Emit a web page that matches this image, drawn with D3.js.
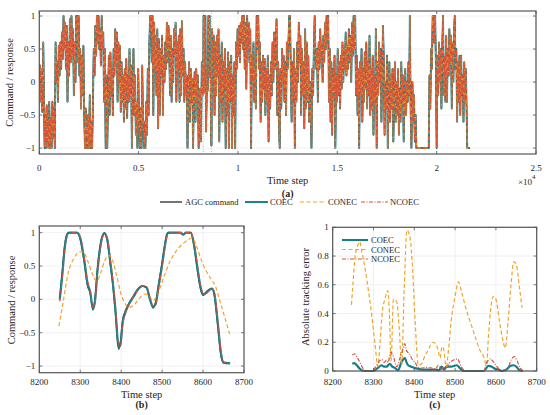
<!DOCTYPE html>
<html><head><meta charset="utf-8">
<script src="https://cdn.jsdelivr.net/npm/d3@7"></script>
<style>body{margin:0;background:#fff}svg text{font-family:'Liberation Serif','DejaVu Serif',serif;fill:#262626}</style>
</head><body>
<script>
// ---------------- DATA ----------------
const seriesNames = ["AGC command","COEC","CONEC","NCOEC"];
const aTicks = [0,5000,10000,15000,20000,25000];
const aTickLabels = ["0","0.5","1","1.5","2","2.5"];
const cmdTicks = [-1,-0.5,0,0.5,1];
const cmdTickLabels = ["\u22121","\u22120.5","0","0.5","1"];
const zoomTicks = [8200,8300,8400,8500,8600,8700];
const zoomTickLabels = ["8200","8300","8400","8500","8600","8700"];
const errTicks = [0,0.2,0.4,0.6,0.8,1];
const errTickLabels = ["0","0.2","0.4","0.6","0.8","1"];
const zoomWindow = [8250,8665];

// (a) full AGC command, [time step, value] (responses overlap it at this scale)
const agcFull = [
[0,0.0],[40,0.25],[80,-0.3],[110,0.2],[150,-0.45],[180,0.15],[200,0.6],[230,-0.2],[270,-1],[300,-0.5],[330,-1],[370,-0.35],[400,-0.9],[430,-0.6],[460,-1],[500,-0.3],[540,-1],[580,-0.55],[620,-1],[660,-0.3],[700,-0.85],[740,-0.4],[780,-1],
[820,0.6],[860,0.0],[900,0.3],[940,-0.3],[980,0.55],[1020,0.1],[1060,0.6],[1100,0.2],[1140,0.75],[1180,0.35],[1220,1],[1260,0.5],[1300,0.9],[1340,0.2],[1380,0.85],[1420,-0.3],[1460,0.6],[1500,0.1],[1540,0.95],[1580,0.3],[1620,1],[1660,0.4],[1700,0.8],[1740,-0.2],[1780,0.6],[1820,0.0],[1860,1],[1900,1],[1940,0.3],[1980,1],[2020,0.1],[2060,0.5],[2100,-0.4],[2140,0.4],[2180,-0.2],[2220,0.55],[2260,-0.5],
[2300,-1],[2340,-0.4],[2380,-1],[2420,-1],[2460,-0.5],[2500,-1],[2540,-0.2],[2580,-1],[2620,-0.6],[2660,-1],[2700,-0.3],
[2740,0.5],[2780,0.1],[2820,0.85],[2860,0.4],[2900,1],[2940,0.6],[2980,1],[3020,0.5],[3060,0.8],[3100,0.25],[3140,1],[3180,0.5],[3220,0.75],[3260,-0.3],[3300,0.5],[3340,-1],[3380,0.1],[3420,-1],[3460,-0.3],[3500,0.4],
[3540,-0.5],[3580,0.45],[3620,-0.2],[3660,0.2],[3700,-0.5],[3740,0.5],[3780,0.1],[3820,0.8],[3860,0.3],[3900,0.75],[3940,-0.3],[3980,0.6],[4020,0.0],[4060,0.55],[4100,-0.45],[4140,0.3],[4180,-0.3],[4220,0.1],[4260,-0.6],[4300,0.2],[4340,-0.4],[4380,0.35],[4420,-0.55],[4460,0.1],[4500,-0.3],[4540,0.5],[4580,-0.2],[4620,0.25],[4660,-1],[4700,-0.1],[4740,0.5],[4780,-0.5],[4820,0.1],[4860,-0.8],[4900,-0.3],[4940,-1],[4980,0.2],[5020,-0.6],[5060,-1],[5100,-0.4],[5140,-1],[5180,0.25],[5220,-0.6],[5260,-1],
[5300,-0.6],[5340,-1],[5380,-0.3],[5420,-0.8],[5460,0.2],[5500,-0.5],[5540,0.6],[5580,1],[5620,1],[5660,0.3],[5700,1],[5740,-0.5],[5780,0.9],[5820,0.2],[5860,0.7],[5900,-0.2],[5940,0.8],[5980,-0.7],[6020,0.65],[6060,-0.5],[6100,0.5],[6140,0.1],[6180,0.7],[6220,-0.5],[6260,0.4],[6300,0.0],[6340,0.6],[6380,0.2],[6420,0.9],[6460,0.3],[6500,0.85],[6540,0.5],[6580,-0.2],[6620,0.7],[6660,-0.3],[6700,0.5],[6740,0.0],[6780,0.8],[6820,0.4],[6860,0.9],[6900,-0.3],[6940,0.6],[6980,0.2],[7020,0.7],[7060,-0.3],[7100,0.8],[7140,-0.2],[7180,0.92],[7220,0.1],[7260,0.5],[7300,-0.3],[7340,0.3],[7380,-0.2],[7420,0.1],[7460,-1],[7500,-0.1],[7540,0.3],[7580,-0.6],[7620,0.2],[7660,-0.3],[7700,0.05],[7740,-1],[7780,-0.2],[7820,0.15],[7860,-0.6],[7900,0.2],[7940,-0.3],[7980,0.1],[8020,-1],[8060,-0.4],[8100,-0.1],[8140,-0.9],[8180,0.3],[8220,-0.2],
[8250,0.02],[8267,1],[8293,1],[8331,-0.16],[8359,1],[8394,-0.75],[8451,0.2],[8478,-0.13],[8512,1],[8569,1],[8598,0.07],[8622,0.16],[8647,-0.95],[8667,-0.96],
[8700,0.8],[8740,0.3],[8780,0.7],[8820,-0.5],[8860,0.6],[8900,-0.2],[8940,0.7],[8980,0.1],[9020,0.8],[9060,-0.9],[9100,0.4],[9140,-0.3],[9180,0.6],[9220,-0.6],[9260,0.3],[9300,-0.1],[9340,0.5],[9380,-1],[9420,0.2],[9460,-0.5],[9500,0.45],[9540,-1],[9580,0.3],[9620,-0.3],[9660,0.4],[9700,-1],[9740,0.1],[9780,-0.5],[9820,0.3],[9860,-1],[9900,0.6],[9940,0.2],[9980,0.8],[10020,0.4],[10060,0.85],[10100,0.3],[10140,0.9],[10180,0.6],[10220,1],[10260,0.5],[10300,1],[10340,0.2],[10380,0.9],[10420,-0.1],[10460,1],[10500,0.5],[10540,0.9],[10580,0.3],[10620,0.8],[10660,-1],[10700,0.4],[10740,0.0],[10780,0.6],[10820,-0.3],[10860,0.2],[10900,-0.4],[10940,1],[10980,0.5],[11020,1],[11060,0.2],[11100,0.6],[11140,-0.6],[11180,0.3],[11220,-0.3],[11260,0.4],[11300,-0.1],[11340,0.35],[11380,-0.5],[11420,0.2],[11460,-0.3],[11500,0.4],[11540,-0.9],[11580,0.1],[11620,-0.4],[11660,0.3],[11700,-0.2],[11740,0.6],[11780,0.0],[11820,0.75],[11860,0.2],
[11900,0.3],[11940,0.95],[11980,-0.5],[12020,0.3],[12060,-0.6],[12100,-1],[12140,0.2],[12180,-0.4],[12220,0.5],[12260,0.0],[12300,0.4],[12340,-0.3],[12380,0.3],[12420,-0.5],[12460,0.6],[12500,0.2],[12540,0.6],[12580,1],[12620,1],[12660,0.1],[12700,-0.6],[12740,0.3],[12780,-0.3],[12820,0.5],[12860,-1],[12900,0.2],[12940,-0.3],[12980,0.6],[13020,0.0],[13060,0.9],[13100,0.3],[13140,0.7],[13180,-0.5],[13220,0.5],[13260,-0.2],[13300,0.3],[13340,-0.7],[13380,0.8],[13420,-0.4],[13460,0.6],[13500,-0.3],[13540,0.4],[13580,-0.6],[13620,0.0],[13660,-0.4],[13700,-1],[13740,0.2],[13780,-0.2],[13820,0.5],[13860,1],[13900,0.4],[13940,0.2],[13980,0.5],[14020,-0.3],[14060,0.6],[14100,0.2],[14140,0.8],[14180,0.3],[14220,0.6],[14260,0.0],[14300,0.7],[14340,0.3],[14380,0.9],[14420,0.5],[14460,1],[14500,0.6],[14540,1],[14580,-0.3],[14620,0.5],[14660,-0.6],[14700,0.3],[14740,-0.8],[14780,0.2],[14820,-0.2],[14860,0.4],[14900,-1],[14940,0.1],[14980,-0.3],[15020,0.5],[15060,-0.2],[15100,0.3],[15140,-0.4],[15180,0.4],[15220,-0.1],[15260,0.6],[15300,0.0],[15340,0.5],[15380,0.2],[15420,0.75],[15460,0.1],[15500,0.55],[15540,0.2],[15580,0.8],[15620,0.3],[15660,0.7],[15700,0.0],[15740,0.9],[15780,0.4],[15820,1],[15860,0.5],[15900,1],[15940,-0.2],
[15980,0.4],[16020,-0.5],[16060,0.2],[16100,-1],[16140,0.3],[16180,-0.2],[16220,0.5],[16260,-0.6],[16300,0.2],[16340,-0.3],[16380,0.45],[16420,-0.1],[16460,0.6],[16500,-0.4],[16540,0.3],[16580,-0.2],[16620,0.7],[16660,-0.5],[16700,0.2],[16740,-0.4],[16780,0.4],[16820,-0.8],[16860,0.1],[16900,-0.3],[16940,0.8],[16980,-1],[17020,0.3],[17060,-0.2],[17100,0.6],[17140,0.0],[17180,0.5],[17220,-0.6],[17260,0.2],[17300,0.85],[17340,0.3],[17380,-0.8],[17420,0.0],[17460,-0.4],[17500,0.4],[17540,-1],[17580,-0.2],[17620,0.3],[17660,-0.6],[17700,0.1],[17740,-0.4],[17780,0.2],[17820,-0.9],[17860,-0.2],[17900,0.3],[17940,-0.6],[17980,0.0],[18020,-0.5],[18060,0.2],[18100,-0.8],[18140,-0.1],[18180,-0.6],[18220,0.3],[18260,-0.3],[18300,0.1],[18340,-0.9],[18380,-0.3],[18420,0.2],[18460,-0.5],[18500,0.0],[18540,-0.3],[18580,0.3],[18620,-0.2],[18650,1],[18690,-0.4],[18730,-1],[18780,0.0],[18820,-0.6],[18860,-0.2],[18900,-0.9],[18940,-0.5],
[18980,-1],[19100,-1],[19600,-1],[19640,0.1],[19680,-0.4],[19720,0.5],[19760,0.2],[19800,1],[19840,1],[19880,0.6],[19920,1],[19960,0.3],[20000,-1],[20040,0.4],[20080,-0.2],[20120,0.6],[20160,0.0],[20200,0.5],[20240,-0.4],[20280,0.5],[20320,1],[20360,-0.2],[20400,0.4],[20440,-0.3],[20480,0.7],[20520,-0.3],[20560,0.5],[20600,0.1],[20640,0.8],[20680,0.3],[20720,0.7],[20760,-0.4],[20800,0.6],[20840,0.0],[20880,0.8],[20910,1],[20950,0.2],[20990,0.5],[21030,-0.6],[21070,0.3],[21110,-0.3],[21150,0.4],[21190,-0.5],[21230,0.4],[21270,-0.2],[21310,0.1],[21350,-0.6],[21390,0.3],[21430,-0.3],[21470,0.2],[21540,-1],[21600,-1],[21680,-1]
];

// (b) zoomed window
const bSteps = [8250,8256,8262,8268,8272,8292,8300,8310,8318,8324,8331,8336,8342,8350,8359,8366,8374,8380,8386,8394,8398,8404,8410,8420,8430,8440,8452,8462,8470,8478,8484,8492,8500,8506,8512,8515,8545,8552,8558,8570,8578,8586,8594,8600,8606,8615,8622,8628,8636,8644,8650,8666];
const agcB = [0.02,0.4,0.8,0.98,1,1,0.9,0.55,0.2,0.1,-0.16,0,0.45,0.85,1,0.88,0.5,0.2,-0.2,-0.75,-0.65,-0.3,-0.18,-0.05,0.05,0.15,0.2,0.17,0,-0.13,-0.05,0.25,0.55,0.8,0.98,1,1,0.97,1,1,0.8,0.45,0.15,0.06,0.1,0.15,0.16,0.05,-0.4,-0.85,-0.95,-0.96];
const coecB = [0.0,0.36,0.77,0.97,1,1,0.92,0.58,0.23,0.12,-0.14,-0.03,0.42,0.83,0.99,0.9,0.53,0.23,-0.16,-0.72,-0.68,-0.33,-0.2,-0.06,0.04,0.14,0.2,0.18,0.01,-0.11,-0.07,0.22,0.52,0.77,0.97,1,1,0.97,1,1,0.82,0.48,0.18,0.07,0.09,0.14,0.16,0.07,-0.36,-0.82,-0.95,-0.96];
const ncoecB = [-0.03,0.32,0.72,0.95,0.99,1,0.94,0.62,0.27,0.15,-0.12,-0.05,0.38,0.8,0.98,0.92,0.57,0.27,-0.12,-0.68,-0.7,-0.36,-0.22,-0.07,0.03,0.13,0.2,0.19,0.03,-0.1,-0.08,0.19,0.49,0.74,0.95,0.99,1,0.97,1,1,0.84,0.52,0.21,0.09,0.08,0.13,0.16,0.09,-0.32,-0.78,-0.94,-0.96];
const conecB = [[8248,-0.4],[8258,-0.05],[8270,0.38],[8285,0.62],[8300,0.71],[8308,0.71],[8318,0.58],[8330,0.38],[8340,0.27],[8350,0.4],[8360,0.58],[8370,0.66],[8378,0.6],[8388,0.38],[8398,0.12],[8408,-0.05],[8420,-0.12],[8432,-0.08],[8445,0.02],[8458,0.08],[8468,0.05],[8478,-0.02],[8490,0.1],[8505,0.35],[8520,0.58],[8535,0.73],[8550,0.83],[8565,0.9],[8573,0.92],[8585,0.78],[8595,0.6],[8608,0.42],[8620,0.3],[8630,0.2],[8640,0.0],[8652,-0.25],[8665,-0.52]];

// (c) absolute tracking error
const coecC = [[8248,0.05],[8253,0.055],[8259,0.04],[8265,0.02],[8271,0.005],[8280,0],[8300,0],[8310,0.02],[8320,0.04],[8326,0.03],[8332,0.03],[8340,0.05],[8346,0.03],[8353,0.02],[8360,0.005],[8369,0.065],[8377,0.09],[8381,0.06],[8385,0.04],[8393,0.03],[8402,0.02],[8410,0.015],[8418,0.01],[8430,0.01],[8440,0.008],[8451,0.01],[8460,0.005],[8467,0.03],[8473,0.01],[8479,0.03],[8490,0.03],[8504,0.04],[8512,0.02],[8520,0],[8570,0],[8582,0.035],[8590,0.03],[8598,0.015],[8606,0.01],[8614,0],[8626,0.01],[8635,0.035],[8643,0.04],[8650,0.03],[8658,0.005],[8665,0]];
const ncoecC = [[8248,0.11],[8253,0.12],[8259,0.1],[8265,0.07],[8272,0.03],[8279,0.0],[8295,0],[8308,0.04],[8315,0.07],[8320,0.08],[8326,0.06],[8332,0.075],[8336,0.06],[8342,0.13],[8349,0.1],[8357,0.03],[8365,0.09],[8373,0.16],[8377,0.19],[8381,0.14],[8388,0.12],[8395,0.08],[8402,0.06],[8408,0.03],[8418,0.02],[8430,0.025],[8443,0.02],[8452,0.015],[8459,0.04],[8466,0.01],[8471,0.03],[8478,0.02],[8485,0.05],[8492,0.07],[8500,0.08],[8506,0.085],[8512,0.05],[8520,0.01],[8528,0],[8570,0],[8578,0.06],[8586,0.085],[8592,0.07],[8600,0.04],[8610,0.01],[8620,0.005],[8631,0.03],[8638,0.08],[8645,0.1],[8652,0.07],[8660,0.02],[8667,0]];
const conecC = [[8246,0.46],[8250,0.62],[8255,0.8],[8260,0.86],[8266,0.9],[8272,0.82],[8279,0.72],[8288,0.55],[8296,0.38],[8304,0.18],[8311,0.03],[8316,0.2],[8322,0.42],[8328,0.5],[8335,0.56],[8339,0.4],[8343,0.07],[8349,0.5],[8357,0.48],[8363,0.3],[8369,0.04],[8375,0.55],[8382,0.98],[8390,0.92],[8396,0.7],[8402,0.35],[8410,0.04],[8418,0.05],[8425,0.1],[8435,0.15],[8444,0.2],[8452,0.19],[8458,0.15],[8463,0.09],[8468,0.17],[8472,0.15],[8478,0.03],[8484,0.15],[8490,0.34],[8500,0.52],[8508,0.62],[8516,0.55],[8525,0.45],[8535,0.36],[8548,0.25],[8560,0.15],[8570,0.1],[8577,0.04],[8582,0.25],[8588,0.45],[8594,0.52],[8600,0.5],[8608,0.36],[8616,0.23],[8623,0.16],[8630,0.35],[8637,0.6],[8644,0.76],[8650,0.74],[8657,0.6],[8664,0.44]];

// ---------------- STYLE ----------------
const FONT = "'Liberation Serif','DejaVu Serif',serif";
const colors = {"AGC command":"#3a3a3a","COEC":"#117f8b","CONEC":"#eda52e","NCOEC":"#d8523a"};
const styles = {
  "AGC command":{w:1.4,dash:null},
  "COEC":{w:1.9,dash:null},
  "CONEC":{w:1.2,dash:"4,2.5"},
  "NCOEC":{w:1.2,dash:"4,1.5,1,1.5"}
};
const frameColor = "#555";
const gridColor = "#ebebeb";

const svg = d3.select("body").append("svg").attr("width",550).attr("height",415)
  .attr("font-family",FONT).style("font-family",FONT);
const defs = svg.append("defs");
let clipId = 0;

function txt(sel){ return sel.append("text").attr("font-family",FONT).style("font-family",FONT); }

function panel(x, y, xt, xl, yt, yl, opts) {
  const g = svg.append("g");
  const [x0,x1] = x.range(), [yb,yt0] = y.range();
  g.selectAll(null).data(xt).enter().append("line")
    .attr("x1",d=>x(d)).attr("x2",d=>x(d)).attr("y1",yt0).attr("y2",yb)
    .attr("stroke",gridColor).attr("stroke-width",0.7);
  g.selectAll(null).data(yt).enter().append("line")
    .attr("y1",d=>y(d)).attr("y2",d=>y(d)).attr("x1",x0).attr("x2",x1)
    .attr("stroke",gridColor).attr("stroke-width",0.7);
  const id = "clip"+(clipId++);
  defs.append("clipPath").attr("id",id).append("rect")
    .attr("x",x0).attr("y",yt0-2).attr("width",x1-x0).attr("height",yb-yt0+4);
  const plot = g.append("g").attr("clip-path",`url(#${id})`);
  const axes = g.append("g");
  const tl = 3;
  xt.forEach(t=>{
    axes.append("line").attr("x1",x(t)).attr("x2",x(t)).attr("y1",yb).attr("y2",yb-tl).attr("stroke",frameColor).attr("stroke-width",0.8);
    axes.append("line").attr("x1",x(t)).attr("x2",x(t)).attr("y1",yt0).attr("y2",yt0+tl).attr("stroke",frameColor).attr("stroke-width",0.8);
  });
  yt.forEach(t=>{
    axes.append("line").attr("x1",x0).attr("x2",x0+tl).attr("y1",y(t)).attr("y2",y(t)).attr("stroke",frameColor).attr("stroke-width",0.8);
    axes.append("line").attr("x1",x1).attr("x2",x1-tl).attr("y1",y(t)).attr("y2",y(t)).attr("stroke",frameColor).attr("stroke-width",0.8);
  });
  axes.append("rect").attr("x",x0).attr("y",yt0).attr("width",x1-x0).attr("height",yb-yt0)
    .attr("fill","none").attr("stroke",frameColor).attr("stroke-width",1.2);
  xt.forEach((t,i)=>{
    txt(axes).attr("x",x(t)).attr("y",opts.xLabY).attr("text-anchor","middle")
      .attr("font-size",9).text(xl[i]);
  });
  yt.forEach((t,i)=>{
    txt(axes).attr("x",x0-4).attr("y",y(t)+3).attr("text-anchor","end")
      .attr("font-size",9).text(yl[i]);
  });
  const cx = (x0+x1)/2;
  txt(axes).attr("x",cx).attr("y",opts.xTitleY).attr("text-anchor","middle")
    .attr("font-size",10.5).text("Time step");
  txt(axes).attr("x",cx).attr("y",opts.capY).attr("text-anchor","middle")
    .attr("font-size",10).attr("font-weight","bold").text(opts.cap);
  txt(axes).attr("transform",`translate(${opts.yTitleX},${opts.yTitleCY}) rotate(-90)`)
    .attr("text-anchor","middle").attr("font-size",10.5).text(opts.yTitle);
  return {plot, axes};
}

function drawLine(layer, data, x, y, name, curve) {
  const st = styles[name];
  const line = d3.line().x(d=>x(d[0])).y(d=>y(d[1])).curve(curve||d3.curveLinear);
  const p = layer.append("path").datum(data).attr("d",line)
    .attr("fill","none").attr("stroke",colors[name]).attr("stroke-width",st.w)
    .attr("stroke-linejoin","round");
  if (st.dash) p.attr("stroke-dasharray",st.dash);
  return p;
}

// ---------------- PANEL (a) ----------------
const xa = d3.scaleLinear().domain([0,25000]).range([39.3,536]);
const ya = d3.scaleLinear().domain([-1.09,1.076]).range([154,11]);
const pa = panel(xa, ya, aTicks, aTickLabels, cmdTicks, cmdTickLabels,
  {xLabY:171, xTitleY:183.5, capY:196.5, cap:"(a)", yTitle:"Command / response", yTitleX:13, yTitleCY:82.5});
seriesNames.forEach(n=>drawLine(pa.plot, agcFull, xa, ya, n));
zoomWindow.forEach(s=>{
  pa.plot.append("line").attr("x1",xa(s)).attr("x2",xa(s)).attr("y1",11).attr("y2",154)
    .attr("stroke","#9a9a9a").attr("stroke-width",0.7).attr("stroke-dasharray","1,1.5");
});
txt(pa.axes).attr("x",518).attr("y",185).attr("font-size",9).text("\u00d710");
txt(pa.axes).attr("x",532).attr("y",179).attr("font-size",7).text("4");

// legend
const legX = [160,245,300,361], legLen = [22,23,25,27], legTX = [185,270,328,390];
seriesNames.forEach((n,i)=>{
  const st = styles[n];
  const l = svg.append("line").attr("x1",legX[i]).attr("x2",legX[i]+legLen[i]).attr("y1",202).attr("y2",202)
    .attr("stroke",colors[n]).attr("stroke-width",st.w);
  if (st.dash) l.attr("stroke-dasharray",st.dash);
  txt(svg).attr("x",legTX[i]).attr("y",205).attr("font-size",8.5).text(n);
});

// ---------------- PANEL (b) ----------------
const xb = d3.scaleLinear().domain([8200,8700]).range([39.3,244]);
const yb = d3.scaleLinear().domain([-1.1,1.1]).range([372.7,226]);
const pb = panel(xb, yb, zoomTicks, zoomTickLabels, cmdTicks, cmdTickLabels,
  {xLabY:385, xTitleY:397.5, capY:408, cap:"(b)", yTitle:"Command / response", yTitleX:15, yTitleCY:300});
const zipB = vals => bSteps.map((s,i)=>[s,vals[i]]);
drawLine(pb.plot, zipB(agcB), xb, yb, "AGC command", d3.curveMonotoneX);
drawLine(pb.plot, zipB(coecB), xb, yb, "COEC", d3.curveMonotoneX).attr("stroke-width",2.2);
drawLine(pb.plot, conecB, xb, yb, "CONEC", d3.curveMonotoneX);
drawLine(pb.plot, zipB(ncoecB), xb, yb, "NCOEC", d3.curveMonotoneX);

// ---------------- PANEL (c) ----------------
const xc = d3.scaleLinear().domain([8200,8700]).range([332.7,536.7]);
const yc = d3.scaleLinear().domain([0,1]).range([371,227.3]);
const pc = panel(xc, yc, zoomTicks, zoomTickLabels, errTicks, errTickLabels,
  {xLabY:385, xTitleY:397.5, capY:408, cap:"(c)", yTitle:"Absolute tracking error", yTitleX:309, yTitleCY:297});
drawLine(pc.plot, coecC, xc, yc, "COEC", d3.curveMonotoneX).attr("stroke-width",2.2);
drawLine(pc.plot, conecC, xc, yc, "CONEC", d3.curveMonotoneX);
drawLine(pc.plot, ncoecC, xc, yc, "NCOEC", d3.curveMonotoneX);
["COEC","CONEC","NCOEC"].forEach((n,i)=>{
  const yy = 240 + i*9.5;
  const st = styles[n];
  const l = pc.axes.append("line").attr("x1",342).attr("x2",368).attr("y1",yy).attr("y2",yy)
    .attr("stroke",colors[n]).attr("stroke-width",n==="COEC"?2:st.w);
  if (st.dash) l.attr("stroke-dasharray",st.dash);
  txt(pc.axes).attr("x",371).attr("y",yy+3).attr("font-size",8.5).text(n);
});
</script>
</body></html>
